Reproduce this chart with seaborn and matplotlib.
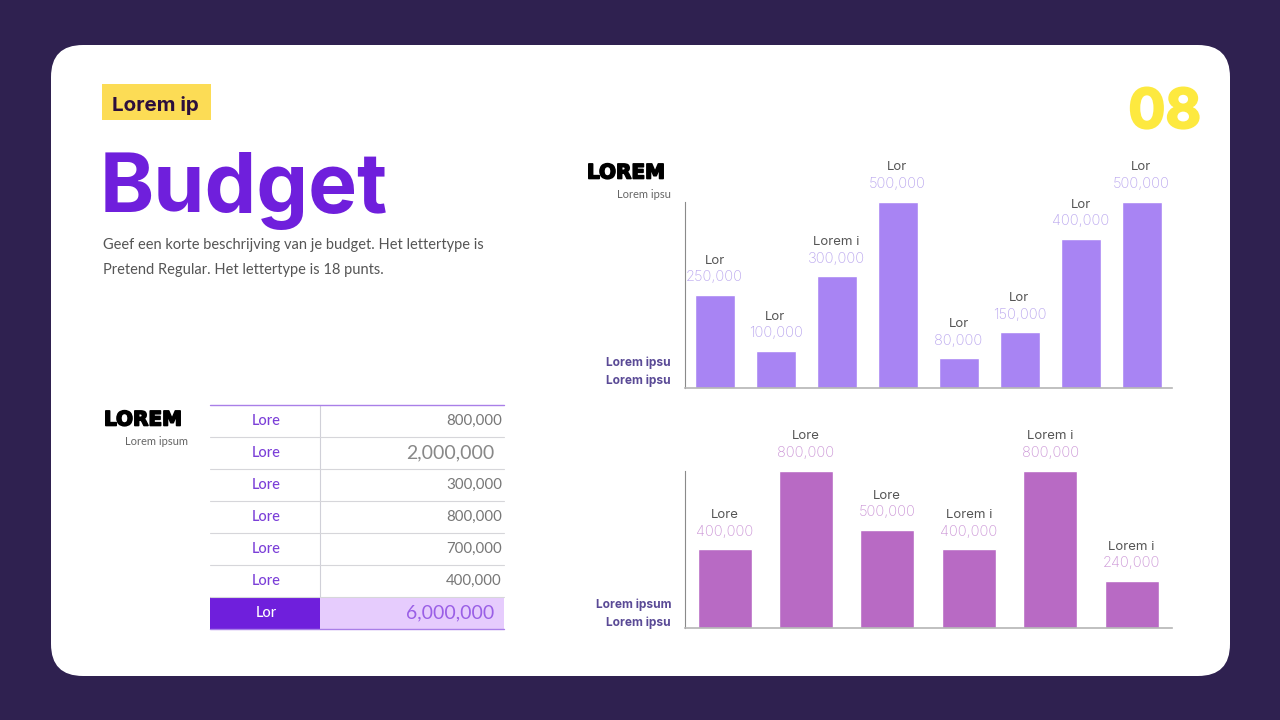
import pandas as pd
import matplotlib.pyplot as plt
import matplotlib.patheffects as pe
from matplotlib.patches import FancyBboxPatch, Rectangle
import seaborn as sns

# top chart
top_labels = ['Lor', 'Lor', 'Lorem i', 'Lor', 'Lor', 'Lor', 'Lor', 'Lor']
top_values = [250000, 100000, 300000, 500000, 80000, 150000, 400000, 500000]

# bottom chart
bottom_labels = ['Lore', 'Lore', 'Lore', 'Lorem i', 'Lorem i', 'Lorem i']
bottom_values = [400000, 800000, 500000, 400000, 800000, 240000]

# table
table_labels = ['Lore', 'Lore', 'Lore', 'Lore', 'Lore', 'Lore', 'Lor']
table_values = [800000, 2000000, 300000, 800000, 700000, 400000, 6000000]

BG = '#2f2150'
PURPLE = '#6f1fdc'
W, H = 1280, 720

sns.set_theme(style='white')
plt.rcParams['font.family'] = ['Inter', 'DejaVu Sans']

fig = plt.figure(figsize=(12.8, 7.2), dpi=100, facecolor=BG)

# full figure axes in pixel coordinates for the slide parts
bg = fig.add_axes([0, 0, 1, 1], zorder=0)
bg.set_xlim(0, W)
bg.set_ylim(H, 0)
bg.axis('off')

bg.add_patch(FancyBboxPatch((51 + 32, 45 + 32), 1179 - 64, 631 - 64,
                            boxstyle='round,pad=32,rounding_size=32',
                            fc='white', ec='none'))
bg.add_patch(Rectangle((102, 84), 109, 36, fc='#fcdc55', ec='none'))
bg.text(112, 105.5, 'Lorem ip', fontsize=14.8, fontweight='bold', color='#2c0f3c', va='center')
bg.text(100, 191, 'Budget', fontsize=59.2, fontweight='bold', color=PURPLE, va='center')
bg.text(1201, 114, '08', fontsize=39.5, fontweight='bold', color='#fde93f', va='center', ha='right',
        path_effects=[pe.withStroke(linewidth=1.5, foreground='#fde93f')])

body = ['Geef een korte beschrijving van je budget. Het lettertype is',
        'Pretend Regular. Het lettertype is 18 punts.']
for i, line in enumerate(body):
    bg.text(103, 245 + i * 25, line, fontsize=10.5, color='#555555', va='center', family='Lato')


def block_title(x, y, big, small, small_right):
    # heavy title plus small caption, right aligned to the given edge
    bg.text(x, y, big, fontsize=14.4, fontweight='bold', color='black', va='center',
            family='DejaVu Sans', path_effects=[pe.withStroke(linewidth=1.2, foreground='black')])
    bg.text(small_right, y + 21.5, small, fontsize=8, color='#666666', va='center', ha='right', family='Lato')


block_title(587, 173, 'LOREM', 'Lorem ipsu', 671)
block_title(104, 420, 'LOREM', 'Lorem ipsum', 188)

for y, txt in [(363, 'Lorem ipsu'), (381, 'Lorem ipsu'), (605, 'Lorem ipsum'), (623, 'Lorem ipsu')]:
    bg.text(671, y, txt, fontsize=8.6, fontweight='bold', color='#5a4a96', va='center', ha='right')

# table
row_tops = [405, 437, 469, 501, 533, 565, 597, 629]
tx0, tx1, tx2 = 210, 320, 504
last = len(table_values) - 1
bg.add_patch(Rectangle((tx0, row_tops[last]), tx1 - tx0, row_tops[last + 1] - row_tops[last], fc=PURPLE, ec='none'))
bg.add_patch(Rectangle((tx1, row_tops[last]), tx2 - tx1, row_tops[last + 1] - row_tops[last], fc='#e6ccfd', ec='none'))
bg.plot([tx1, tx1], [row_tops[0], row_tops[last]], color='#d0d0d8', lw=0.8)
for y in row_tops[1:-1]:
    bg.plot([tx0, tx2], [y, y], color='#d6d6da', lw=0.8)
bg.plot([tx0, tx2], [row_tops[0], row_tops[0]], color='#a97fe8', lw=1)
bg.plot([tx0, tx2], [row_tops[-1], row_tops[-1]], color='#a97fe8', lw=1)

for i, (lab, val) in enumerate(zip(table_labels, table_values)):
    yc = (row_tops[i] + row_tops[i + 1]) / 2 + 0.3
    big = val >= 1000000
    bg.text((tx0 + tx1) / 2 + 1, yc, lab, fontsize=10.5, family='Lato', va='center', ha='center',
            fontweight='medium', color='white' if i == last else '#7b3fd8')
    col = '#9a5fe6' if i == last else ('#888888' if big else '#777777')
    bg.text(494 if big else 502, yc - (0 if big else 0.7), f'{val:,}', family='Lato', va='center', ha='right',
            fontsize=14 if big else 10.8, color=col)


def bar_chart(rect, labels, values, bar_color, val_color, bar_px, step_px, first_px):
    left, top, right, bottom = rect
    ax = fig.add_axes([left / W, 1 - bottom / H, (right - left) / W, (bottom - top) / H], zorder=2)
    ax.patch.set_alpha(0)
    df = pd.DataFrame({'pos': range(len(values)), 'value': values})
    sns.barplot(data=df, x='pos', y='value', color=bar_color, saturation=1,
                width=bar_px / step_px, ax=ax)
    ax.set_xlim(-(first_px - left) / step_px, (right - first_px) / step_px)
    ax.set_ylim(0, max(values))
    ax.set_xlabel('')
    ax.set_ylabel('')
    ax.set_xticks([])
    ax.set_yticks([])
    sns.despine(ax=ax)
    ax.spines['left'].set_color('#8a8a8a')
    ax.spines['left'].set_linewidth(0.8)
    ax.spines['bottom'].set_color('#b5b5b5')
    ax.spines['bottom'].set_linewidth(1.2)
    for i, (lab, val) in enumerate(zip(labels, values)):
        ax.annotate(lab, (i, val), xytext=(0, 24.5), textcoords='offset points', ha='center', va='center',
                    fontsize=9.5, color='#555555', annotation_clip=False)
        ax.annotate(f'{val:,}', (i, val), xytext=(0, 12.5), textcoords='offset points', ha='center', va='center',
                    fontsize=10.5, color=val_color, fontweight='light', annotation_clip=False)
    return ax


bar_chart((684.5, 201.5, 1172, 388), top_labels, top_values, '#a884f3', '#b9a5ee', 40, 61, 714.5)
bar_chart((684.5, 470.5, 1172, 628), bottom_labels, bottom_values, '#b86ac4', '#cb94d6', 54, 81.4, 724.5)

fig.savefig('out.png', dpi=100, facecolor=BG)
